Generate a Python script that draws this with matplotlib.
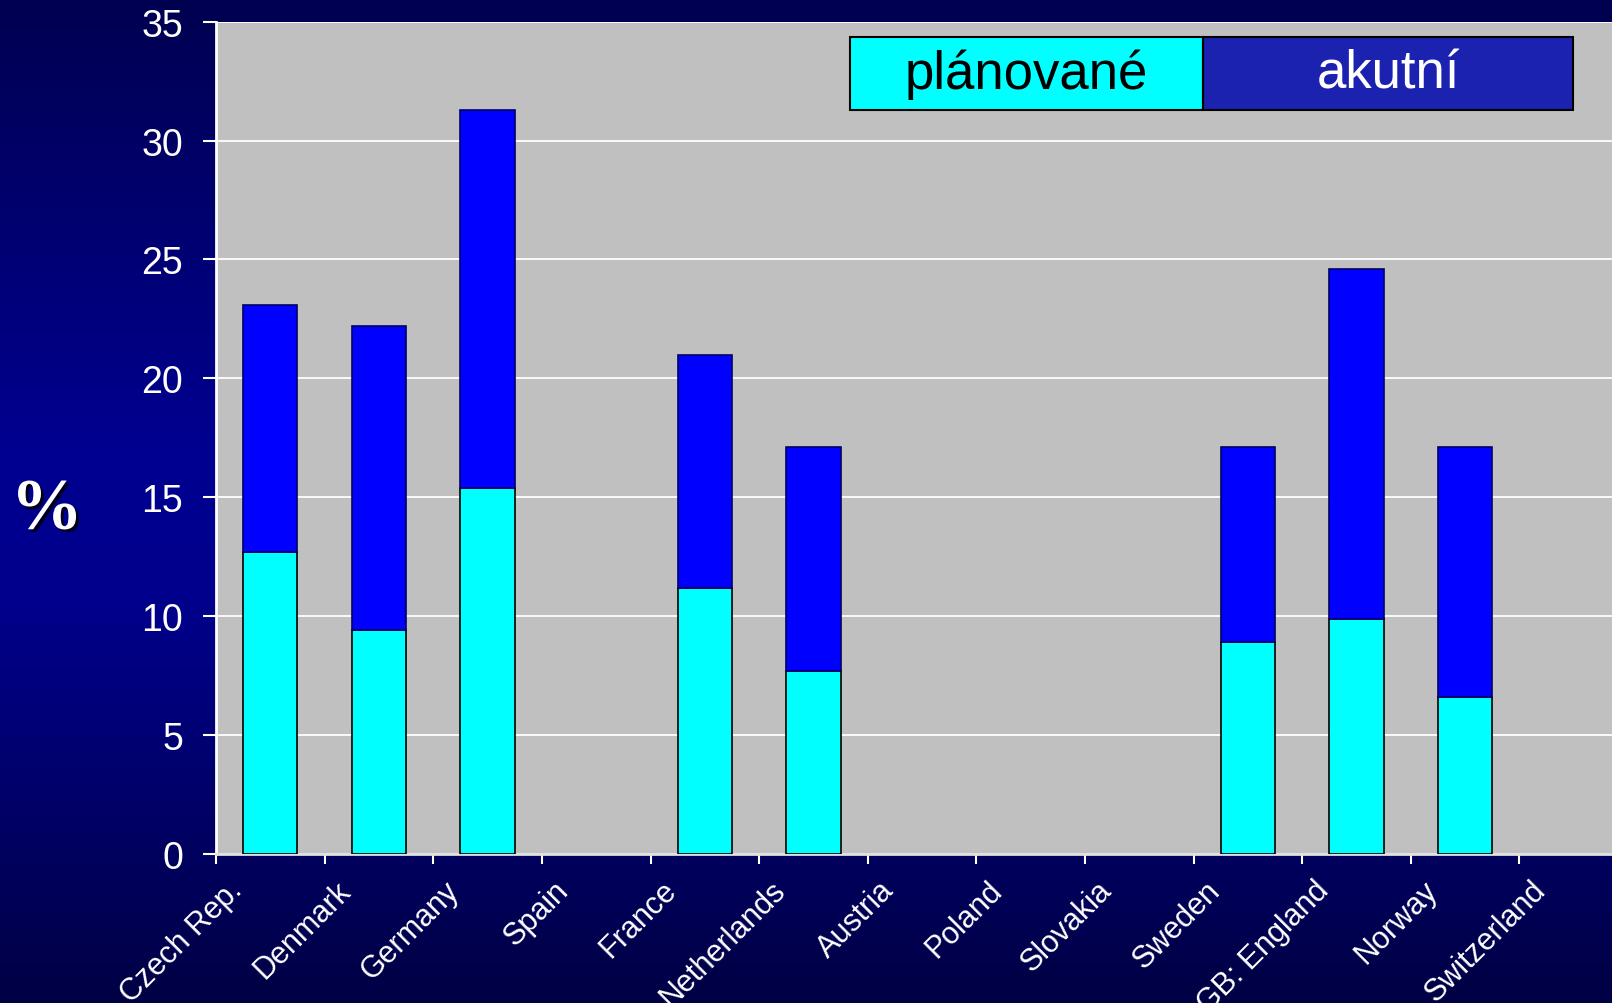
import matplotlib
matplotlib.use("Agg")
import matplotlib.pyplot as plt
import matplotlib.patheffects as pe
from matplotlib.patches import Rectangle
from matplotlib.transforms import ScaledTranslation
import numpy as np

countries = ["Czech Rep.", "Denmark", "Germany", "Spain", "France", "Netherlands",
             "Austria", "Poland", "Slovakia", "Sweden", "GB: England", "Norway",
             "Switzerland"]
# no data for Spain, Austria, Poland, Slovakia, Switzerland
planned = [12.7, 9.4, 15.4, np.nan, 11.2, 7.7, np.nan, np.nan, np.nan, 8.9, 9.9, 6.6, np.nan]
total = [23.1, 22.2, 31.3, np.nan, 21.0, 17.1, np.nan, np.nan, np.nan, 17.1, 24.6, 17.1, np.nan]
acute = [t - p for t, p in zip(total, planned)]
yticks = [0, 5, 10, 15, 20, 25, 30, 35]

fig = plt.figure(figsize=(16.12, 10.04), dpi=100)

# background gradient (dark top, brighter middle, dark bottom)
bg = fig.add_axes([0, 0, 1, 1], zorder=-10)
stops_y = np.array([0.0, 0.45, 0.6, 1.0])
stops_b = np.array([80, 145, 140, 68]) / 255.0
yy = np.linspace(0, 1, 500)
blue = np.interp(yy, stops_y, stops_b)
grad = np.zeros((500, 1, 3))
grad[:, 0, 2] = blue
bg.imshow(grad, aspect="auto", extent=[0, 1, 0, 1], origin="upper")
bg.set_axis_off()

ax = fig.add_axes([0.134, 0.1484, 0.876, 0.8291])
ax.set_facecolor("#c0c0c0")
x = np.arange(len(countries))
ax.bar(x, planned, width=0.5, color="#00ffff", edgecolor="black", linewidth=1.2, zorder=3)
ax.bar(x, acute, bottom=planned, width=0.5, color="#0000ff", edgecolor="#000066",
       linewidth=1.2, zorder=3)

ax.set_xlim(-0.5, len(countries) - 0.5)
ax.set_ylim(0, 35)
ax.set_yticks(yticks)
ax.yaxis.grid(True, color="white", linewidth=1.3, zorder=1)
ax.set_axisbelow(True)

for s in ["top", "right"]:
    ax.spines[s].set_visible(False)
ax.spines["left"].set_color("white")
ax.spines["left"].set_linewidth(2)
ax.spines["bottom"].set_color("#e0e0e0")
ax.spines["bottom"].set_linewidth(2)

ax.tick_params(axis="y", colors="white", labelsize=27, length=9.5, width=1.5,
               direction="out", pad=14)
for lab in ax.get_yticklabels():
    lab.set_fontfamily("Liberation Sans")

# x: boundary ticks, labels at centers
ax.set_xticks(np.arange(-0.5, len(countries), 1.0))
ax.set_xticklabels([])
ax.tick_params(axis="x", which="major", colors="white", length=7, width=1.5, direction="out")
ax.set_xticks(x, minor=True)
ax.set_xticklabels(countries, minor=True, rotation=45, ha="right", va="top",
                   fontsize=22, color="white", fontfamily="Liberation Sans")
ax.tick_params(axis="x", which="minor", length=0, pad=15)
off = ScaledTranslation(-0.22, 0, fig.dpi_scale_trans)
for lab in ax.get_xticklabels(minor=True):
    lab.set_transform(lab.get_transform() + off)

# legend drawn as two boxes
ax.add_patch(Rectangle((0.449, 0.8938), 0.25, 0.0877, transform=ax.transAxes,
                       facecolor="#00ffff", edgecolor="black", linewidth=1.5, zorder=5))
ax.add_patch(Rectangle((0.699, 0.8938), 0.262, 0.0877, transform=ax.transAxes,
                       facecolor="#1c22b0", edgecolor="black", linewidth=1.5, zorder=5))
ax.text(0.574, 0.9376, "plánované", transform=ax.transAxes, ha="center", va="center",
        fontsize=38, color="black", fontfamily="Liberation Sans", zorder=6)
ax.text(0.830, 0.9376, "akutní", transform=ax.transAxes, ha="center", va="center",
        fontsize=38, color="white", fontfamily="Liberation Sans", zorder=6)

fig.text(0.029, 0.49, "%", ha="center", va="center", fontsize=52, color="white",
         fontfamily="Liberation Serif", fontweight="bold",
         path_effects=[pe.withSimplePatchShadow(offset=(2, -2), shadow_rgbFace="black", alpha=0.8)])

fig.savefig("out.png", dpi=100)
